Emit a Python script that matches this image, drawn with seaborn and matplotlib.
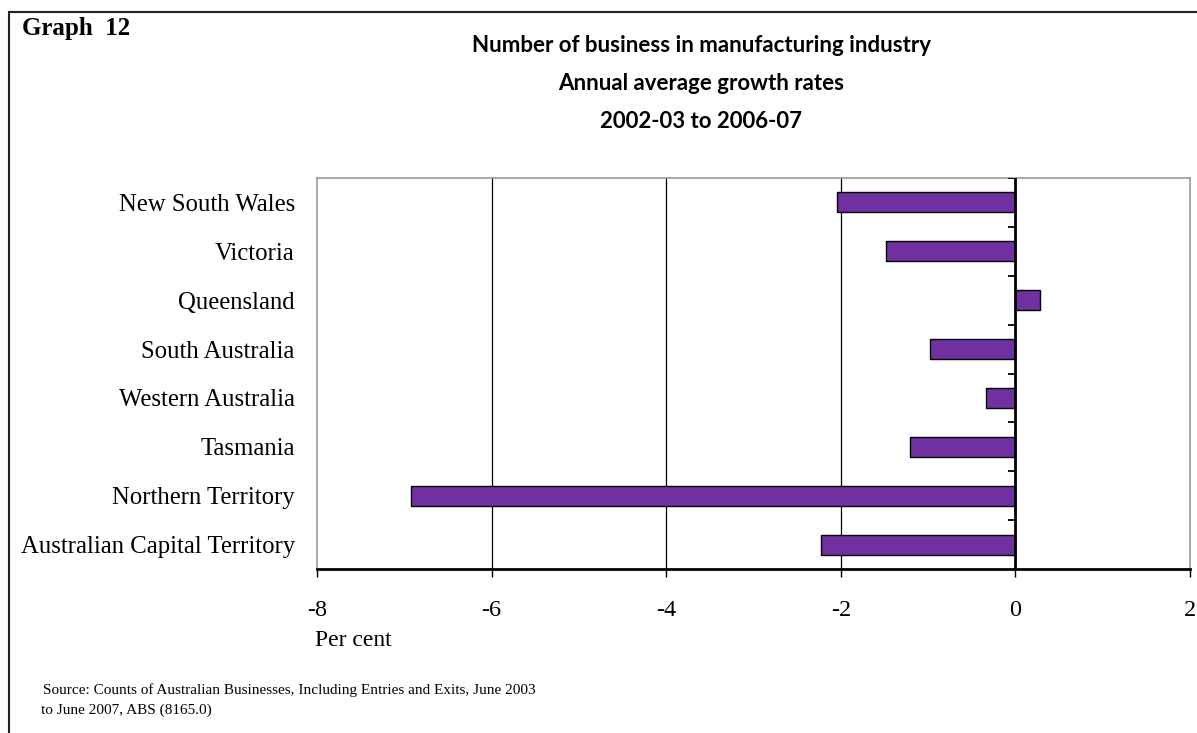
import matplotlib
matplotlib.use("Agg")
import matplotlib.pyplot as plt
import seaborn as sns
import pandas as pd
from matplotlib.patches import Rectangle

states = ["New South Wales", "Victoria", "Queensland", "South Australia",
          "Western Australia", "Tasmania", "Northern Territory",
          "Australian Capital Territory"]
growth = [-2.04, -1.48, 0.28, -0.98, -0.34, -1.21, -6.92, -2.23]
x_ticks = [-8, -6, -4, -2, 0, 2]

df = pd.DataFrame({"state": states, "growth": growth})

sns.set_theme(style="white")
plt.rcParams["font.family"] = ["Liberation Serif", "DejaVu Serif"]
for key in ["text.color", "axes.labelcolor", "xtick.color", "ytick.color"]:
    plt.rcParams[key] = "black"

fig = plt.figure(figsize=(11.97, 7.33), dpi=100)
ax = fig.add_axes([317 / 1197, 1 - 569 / 733, (1190 - 317) / 1197, (569 - 178) / 733])

sns.barplot(data=df, x="growth", y="state", orient="h", color="#7030A0",
            saturation=1, width=0.41, edgecolor="black", linewidth=1.0, ax=ax,
            zorder=3)

ax.set_xlim(-8, 2)
ax.set_ylim(len(states) - 0.5, -0.5)
ax.set_xticks(x_ticks)
ax.set_xticklabels([str(t) for t in x_ticks], fontsize=17.5)
ax.tick_params(axis="x", direction="out", length=6, width=1, color="black",
               pad=16, bottom=True)
ax.tick_params(axis="y", length=0, pad=16, labelsize=17.8)
ax.set_xlabel("")
ax.set_ylabel("")

# vertical gridlines and zero line
for t in [-6, -4, -2]:
    ax.axvline(t, color="black", linewidth=0.9, zorder=1)
ax.axvline(0, color="black", linewidth=2, zorder=4)

# category boundary ticks on the zero line
for b in [i - 0.5 for i in range(len(states))]:
    ax.hlines(b, -0.09, 0, color="black", linewidth=1.3, zorder=4)

for side in ["top", "right", "left"]:
    ax.spines[side].set_color("#999999")
    ax.spines[side].set_linewidth(1.2)
ax.spines["bottom"].set_color("black")
ax.spines["bottom"].set_linewidth(2)

# figure frame
fig.patches.append(Rectangle((9 / 1197, -0.1), 1.2, 1 - 12 / 733 + 0.1,
                             transform=fig.transFigure, fill=False,
                             edgecolor="#222222", linewidth=1.5))

fig.text(22 / 1197, 1 - 29 / 733, "Graph  12", fontsize=18, fontweight="bold",
         va="center", ha="left")

title_lines = ["Number of business in manufacturing industry",
               "Annual average growth rates",
               "2002-03 to 2006-07"]
for i, line in enumerate(title_lines):
    fig.text(701 / 1197, 1 - (46 + 38 * i) / 733, line, fontsize=16,
             fontweight="bold", family=["Lato", "DejaVu Sans"],
             ha="center", va="center")

fig.text(315 / 1197, 1 - 641 / 733, "Per cent", fontsize=17, ha="left", va="center")
fig.text(43 / 1197, 1 - 690 / 733,
         "Source: Counts of Australian Businesses, Including Entries and Exits, June 2003",
         fontsize=11, ha="left", va="center")
fig.text(41 / 1197, 1 - 710 / 733, "to June 2007, ABS (8165.0)",
         fontsize=11, ha="left", va="center")

fig.savefig("out.png", dpi=100)
